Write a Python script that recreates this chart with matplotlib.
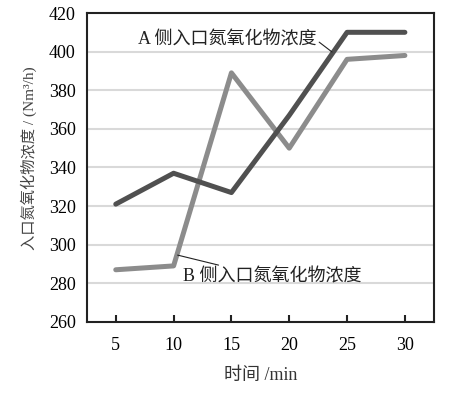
import numpy as np
from matplotlib import pyplot as plt

plt.rcParams['font.family'] = ['Liberation Serif', 'Noto Sans CJK SC']

times = [5, 10, 15, 20, 25, 30]
side_a = [321, 337, 327, 367, 410, 410]
side_b = [287, 289, 389, 350, 396, 398]
yticks = [260, 280, 300, 320, 340, 360, 380, 400, 420]

fig = plt.figure(figsize=(4.5, 3.94), dpi=100)
ax = fig.add_axes([0.193, 0.183, 0.771, 0.784])

x = np.arange(len(times))
for y in yticks[1:-1]:
    ax.axhline(y, color='#d9d9d9', lw=1.5, zorder=0)

ax.plot(x, side_b, color='#8c8c8c', lw=3.6, solid_capstyle='round', zorder=2)
ax.plot(x, side_a, color='#505050', lw=3.6, solid_capstyle='round', zorder=3)

ax.set_xlim(-0.5, len(times) - 0.5)
ax.set_ylim(260, 420)
ax.set_xticks(x)
ax.set_xticklabels([str(t) for t in times])
ax.set_yticks(yticks)
ax.tick_params(axis='x', direction='in', length=5, width=1.5, color='#222222',
               labelsize=13, pad=11)
ax.tick_params(axis='y', length=0, labelsize=13, pad=8)
for s in ax.spines.values():
    s.set_linewidth(1.5)
    s.set_color('#222222')

ax.set_xlabel('时间 /min', fontsize=13, labelpad=9, color='#333333')
ax.set_ylabel('入口氮氧化物浓度 / (Nm³/h)', fontsize=11, color='#444444')
ax.yaxis.set_label_coords(-0.145, 0.53)

ax.annotate('A 侧入口氮氧化物浓度', xy=(3.74, 399.8), xytext=(3.47, 406),
            fontsize=13, ha='right', va='center', color='#222222',
            arrowprops=dict(arrowstyle='-', color='#222222', lw=0.8,
                            shrinkA=0, shrinkB=0, relpos=(1, 0.5)))
ax.annotate('B 侧入口氮氧化物浓度', xy=(1.07, 294.6), xytext=(1.16, 283.2),
            fontsize=13, ha='left', va='center', color='#222222',
            arrowprops=dict(arrowstyle='-', color='#222222', lw=0.8,
                            shrinkA=0, shrinkB=0, relpos=(0.2, 1.2)))

fig.savefig('out.png', dpi=100)
